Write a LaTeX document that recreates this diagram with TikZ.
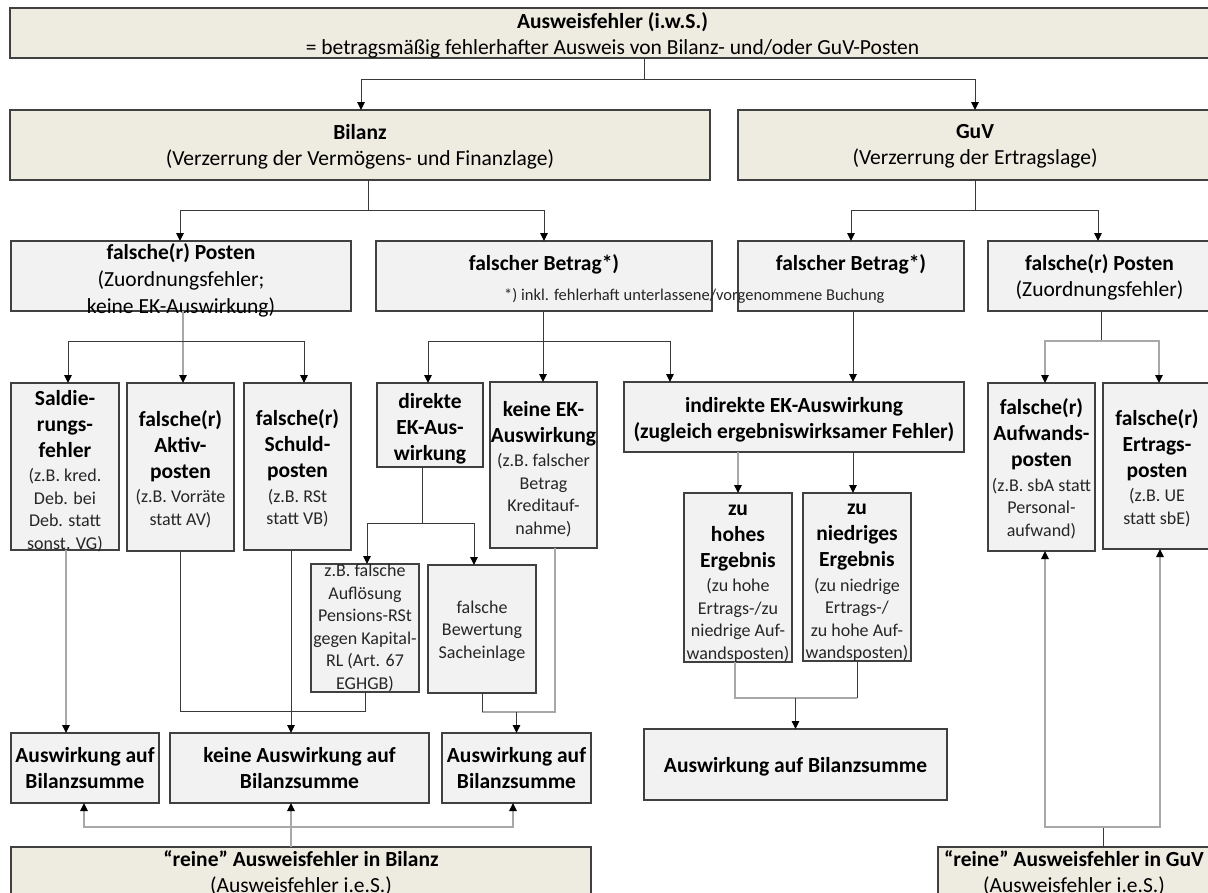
\documentclass[tikz,border=0pt]{standalone}
\usepackage{fontspec}
\setmainfont{Carlito}
\usetikzlibrary{arrows.meta}

\definecolor{beige}{HTML}{EEECE1}
\definecolor{boxgray}{HTML}{F2F2F2}
\definecolor{edge}{HTML}{404040}
\definecolor{wirecol}{HTML}{3A3A3A}
\definecolor{wirelight}{HTML}{A8A8A8}
\definecolor{txtgray}{HTML}{262626}

% font sizes: titles, subtitles, small notes, footnote
\newcommand\fB{\fontsize{21.5}{26}\selectfont\bfseries}
\newcommand\fR{\fontsize{21.5}{26}\selectfont\mdseries}
\newcommand\fS{\fontsize{18}{22.5}\selectfont\mdseries\color{txtgray}}
\newcommand\fN{\fontsize{16.5}{20}\selectfont\mdseries\color{txtgray}}

% centred stack of lines; fonts and line spacing may change from line to line
\newcommand\boxlines[1]{\parbox{800pt}{\centering #1}}

% box from corner (x1,y1) to corner (x2,y2)
\newcommand\mkbox[6]{\node[#2, minimum width={(#5)-(#3)}, minimum height={(#6)-(#4)}] (#1) at ({((#3)+(#5))/2},{((#4)+(#6))/2}) {};}

\tikzset{
  frame/.style={draw=edge, line width=1.2pt, inner sep=0pt, outer sep=0pt, rectangle},
  tanbox/.style={frame, fill=beige},
  graybox/.style={frame, fill=boxgray},
  boxtext/.style={inner sep=0pt, text=black},
  wire/.style={draw=wirecol, line width=1pt},
  wirelt/.style={draw=wirelight, line width=1.2pt},
  arrowend/.style={-{Triangle[length=8pt,width=7.5pt,color=black]}},
}

\begin{document}
\begin{tikzpicture}[x=1pt,y=-1pt]
\useasboundingbox (0,0) rectangle (1208,892);
\clip (0,0) rectangle (1208,892);
\fill[white] (0,0) rectangle (1208,892);

% ---------- boxes ----------
\mkbox{top}{tanbox}{10}{8}{1215}{58}
\mkbox{bil}{tanbox}{10}{110}{710}{180}
\mkbox{guv}{tanbox}{738}{110}{1212}{180}

\mkbox{pb}{graybox}{11}{241}{351}{311}
\mkbox{bb}{graybox}{376}{241}{712}{311}
\mkbox{bg}{graybox}{738}{241}{964}{311}
\mkbox{pg}{graybox}{988}{241}{1211}{311}

\mkbox{sal}{graybox}{11}{383}{119}{550}
\mkbox{akt}{graybox}{127}{383}{234}{551}
\mkbox{sch}{graybox}{244}{383}{351}{550}
\mkbox{dir}{graybox}{377}{383}{483}{467}
\mkbox{kei}{graybox}{490}{382}{597}{548}
\mkbox{ind}{graybox}{624}{382}{964}{452}
\mkbox{auf}{graybox}{988}{383}{1095}{551}
\mkbox{ert}{graybox}{1103}{383}{1211}{549}

\mkbox{hoh}{graybox}{684}{493}{792}{662}
\mkbox{nie}{graybox}{803}{493}{911}{661}
\mkbox{aufl}{graybox}{311}{564}{419}{692}
\mkbox{sach}{graybox}{428}{565}{536}{693}

\mkbox{aw1}{graybox}{11}{733}{159}{803}
\mkbox{aw2}{graybox}{170}{733}{429}{803}
\mkbox{aw3}{graybox}{442}{733}{591}{803}
\mkbox{aw4}{graybox}{644}{729}{947}{800}

\mkbox{rb}{tanbox}{11}{847}{591}{905}
\mkbox{rg}{tanbox}{938}{847}{1210}{905}

% ---------- texts ----------
\node[boxtext, yshift=-2.5pt] (t-top) at (top) {\boxlines{\fB Ausweisfehler (i.w.S.)\\\fR = betragsmäßig fehlerhafter Ausweis von Bilanz- und/oder GuV-Posten}};
\node[boxtext, yshift=-1.5pt] (t-bil) at (bil) {\boxlines{\fB Bilanz\\\fR (Verzerrung der Vermögens- und Finanzlage)}};
\node[boxtext, yshift=-1.5pt] (t-guv) at (guv) {\boxlines{\fB GuV\\\fR (Verzerrung der Ertragslage)}};

\node[boxtext, yshift=-4pt] (t-pb) at (pb) {\boxlines{\fB falsche(r) Posten\\[1pt]\fR (Zuordnungsfehler;\\[1pt]keine EK-Auswirkung)}};
\node[boxtext] (t-bb) at ([yshift=12pt]bb.center) {\boxlines{\fB falscher Betrag*)}};
\node[boxtext, anchor=west] (fn) at (504,296) {\fN *) inkl. fehlerhaft unterlassene/vorgenommene Buchung};
\node[boxtext] (t-bg) at ([yshift=12pt]bg.center) {\boxlines{\fB falscher Betrag*)}};
\node[boxtext, yshift=-1.5pt] (t-pg) at (pg) {\boxlines{\fB falsche(r) Posten\\\fR (Zuordnungsfehler)}};

\node[boxtext, yshift=-4.5pt] (t-sal) at (sal) {\boxlines{\fB Saldie-\\rungs-\\fehler\\[2pt]\fS (z.B. kred.\\Deb. bei\\Deb. statt\\sonst. VG)}};
\node[boxtext, yshift=-2pt] (t-akt) at (akt) {\boxlines{\fB falsche(r)\\Aktiv-\\posten\\[2pt]\fS (z.B. Vorräte\\statt AV)}};
\node[boxtext, yshift=-2pt] (t-sch) at (sch) {\boxlines{\fB falsche(r)\\Schuld-\\posten\\[2pt]\fS (z.B. RSt\\statt VB)}};
\node[boxtext, yshift=-3.5pt] (t-dir) at (dir) {\boxlines{\fB direkte\\EK-Aus-\\wirkung}};
\node[boxtext, yshift=-4pt] (t-kei) at (kei) {\boxlines{\fB keine EK-\\Auswirkung\\[2pt]\fS (z.B. falscher\\Betrag\\Kreditauf-\\nahme)}};
\node[boxtext, yshift=-2.5pt] (t-ind) at (ind) {\boxlines{\fB indirekte EK-Auswirkung\\(zugleich ergebniswirksamer Fehler)}};
\node[boxtext, yshift=-2pt] (t-auf) at (auf) {\boxlines{\fB falsche(r)\\Aufwands-\\posten\\[2pt]\fS (z.B. sbA statt\\Personal-\\aufwand)}};
\node[boxtext, yshift=-2pt] (t-ert) at (ert) {\boxlines{\fB falsche(r)\\Ertrags-\\posten\\[2pt]\fS (z.B. UE\\statt sbE)}};

\node[boxtext, yshift=-6pt] (t-hoh) at (hoh) {\boxlines{\fB zu\\hohes\\Ergebnis\\[2pt]\fS (zu hohe\\Ertrags-/zu\\niedrige Auf-\\wandsposten)}};
\node[boxtext, yshift=-6pt] (t-nie) at (nie) {\boxlines{\fB zu\\niedriges\\Ergebnis\\[2pt]\fS (zu niedrige\\Ertrags-/\\zu hohe Auf-\\wandsposten)}};
\node[boxtext] (t-aufl) at (aufl) {\boxlines{\fS z.B. falsche\\Auflösung\\Pensions-RSt\\gegen Kapital-\\RL (Art. 67\\EGHGB)}};
\node[boxtext, yshift=-2pt] (t-sach) at (sach) {\boxlines{\fS falsche\\Bewertung\\Sacheinlage}};

\node[boxtext] (t-aw1) at (aw1) {\boxlines{\fB Auswirkung auf\\Bilanzsumme}};
\node[boxtext] (t-aw2) at (aw2) {\boxlines{\fB keine Auswirkung auf\\Bilanzsumme}};
\node[boxtext] (t-aw3) at (aw3) {\boxlines{\fB Auswirkung auf\\Bilanzsumme}};
\node[boxtext, yshift=-2pt] (t-aw4) at (aw4) {\boxlines{\fB Auswirkung auf Bilanzsumme}};

\node[boxtext] (t-rb) at ([yshift=-26pt]rb.north) {\boxlines{\fB “reine” Ausweisfehler in Bilanz\\\fR (Ausweisfehler i.e.S.)}};
\node[boxtext] (t-rg) at ([yshift=-26pt]rg.north) {\boxlines{\fB “reine” Ausweisfehler in GuV\\\fR (Ausweisfehler i.e.S.)}};

% ---------- connectors ----------
% Ausweisfehler -> Bilanz / GuV
\draw[wire] ([xshift=31.5pt]top.south) -- ++(0,21) coordinate (j-top);
\draw[wire,arrowend] (j-top) -| ([xshift=1pt]bil.north);
\draw[wire,arrowend] (j-top) -| (guv.north);

% Bilanz / GuV -> second row
\draw[wire] ([xshift=8pt]bil.south) -- ++(0,30) coordinate (j-bil);
\draw[wire,arrowend] (j-bil) -| ([xshift=-1pt]pb.north);
\draw[wire,arrowend] (j-bil) -| (bb.north);
\draw[wire] (guv.south) -- ++(0,30) coordinate (j-guv);
\draw[wire,arrowend] (j-guv) -| (bg.north);
\draw[wire,arrowend] (j-guv) -| ([xshift=-1.5pt]pg.north);

% falsche(r) Posten (Bilanz) -> three kinds
\draw[wirelt,arrowend] ([xshift=2pt]pb.south) -- ([xshift=2pt]pb.south |- akt.north);
\path ([xshift=2pt]pb.south) ++(0,30) coordinate (j-pb);
\draw[wire,arrowend] (j-pb) -| ([xshift=3pt]sal.north);
\draw[wire,arrowend] (j-pb) -| ([xshift=6.5pt]sch.north);

% falscher Betrag (Bilanz) -> EK effects
\draw[wire,arrowend] ([xshift=-1pt]bb.south) -- ([xshift=-1pt]bb.south |- kei.north);
\path ([xshift=-1pt]bb.south) ++(0,30) coordinate (j-bb);
\draw[wire,arrowend] (j-bb) -| ([xshift=-2pt]dir.north);
\draw[wire,arrowend] (j-bb) -| ([xshift=-124pt]ind.north);

% falscher Betrag (GuV) -> indirekte EK-Auswirkung
\draw[wire,arrowend] ([xshift=2pt]bg.south) -- ([xshift=2pt]bg.south |- ind.north);

% falsche(r) Posten (GuV) -> Aufwand / Ertrag
\draw[wire] ([xshift=1.5pt]pg.south) -- ++(0,30) coordinate (j-pg);
\draw[wirelt,arrowend] (j-pg) -| ([xshift=3.5pt]auf.north);
\draw[wirelt,arrowend] (j-pg) -| ([xshift=2pt]ert.north);

% indirekte EK-Auswirkung -> Ergebnis
\draw[wirelt,arrowend] (hoh.north |- ind.south) -- (hoh.north);
\draw[wire,arrowend] ([xshift=-4pt]nie.north |- ind.south) -- ([xshift=-4pt]nie.north);
\draw[wirelt] ([xshift=-3pt]hoh.south) -- ++(0,36) coordinate (j-erg) -- (j-erg -| nie.south);
\draw[wire] (j-erg -| nie.south) -- (nie.south);
\draw[wire,arrowend] (j-erg -| aw4.north) -- (aw4.north);

% direkte EK-Auswirkung -> examples
\draw[wire] ([xshift=-8pt]dir.south) -- ++(0,56) coordinate (j-dir);
\draw[wire,arrowend] (j-dir) -| ([xshift=2pt]aufl.north);
\draw[wire,arrowend] (j-dir) -| ([xshift=-8pt]sach.north);

% to the Bilanzsumme boxes
\draw[wirelt,arrowend] ([xshift=1pt]sal.south) -- ([xshift=1pt]sal.south |- aw1.north);
\draw[wire] (akt.south) -- ++(0,160) coordinate (j-akt) -| (aufl.south);
\draw[wire,arrowend] ([xshift=-6.5pt]sch.south) -- ([xshift=-6.5pt]sch.south |- aw2.north);
\draw[wirelt] ([xshift=11.5pt]kei.south) -- ++(0,164) coordinate (j-kei) -- (j-kei -| sach.south);
\draw[wire] (j-kei -| sach.south) -- (sach.south);
\draw[wire,arrowend] (j-kei -| aw3.north) -- (aw3.north);

% "reine" Ausweisfehler in Bilanz -> upwards
\draw[wirelt,arrowend] ([xshift=-10pt]rb.north) -- ([xshift=-10pt]rb.north |- aw2.south);
\path ([xshift=-10pt]rb.north) ++(0,-20) coordinate (j-rb);
\draw[wirelt,arrowend] (j-rb) -| ([xshift=-1pt]aw1.south);
\draw[wirelt,arrowend] (j-rb) -| ([xshift=-3.5pt]aw3.south);

% "reine" Ausweisfehler in GuV -> upwards
\draw[wire] ([xshift=29pt]rg.north) -- ++(0,-20) coordinate (j-rg);
\draw[wirelt,arrowend] (j-rg) -| ([xshift=3.5pt]auf.south);
\draw[wirelt,arrowend] (j-rg) -| ([xshift=3pt]ert.south);
\end{tikzpicture}
\end{document}
